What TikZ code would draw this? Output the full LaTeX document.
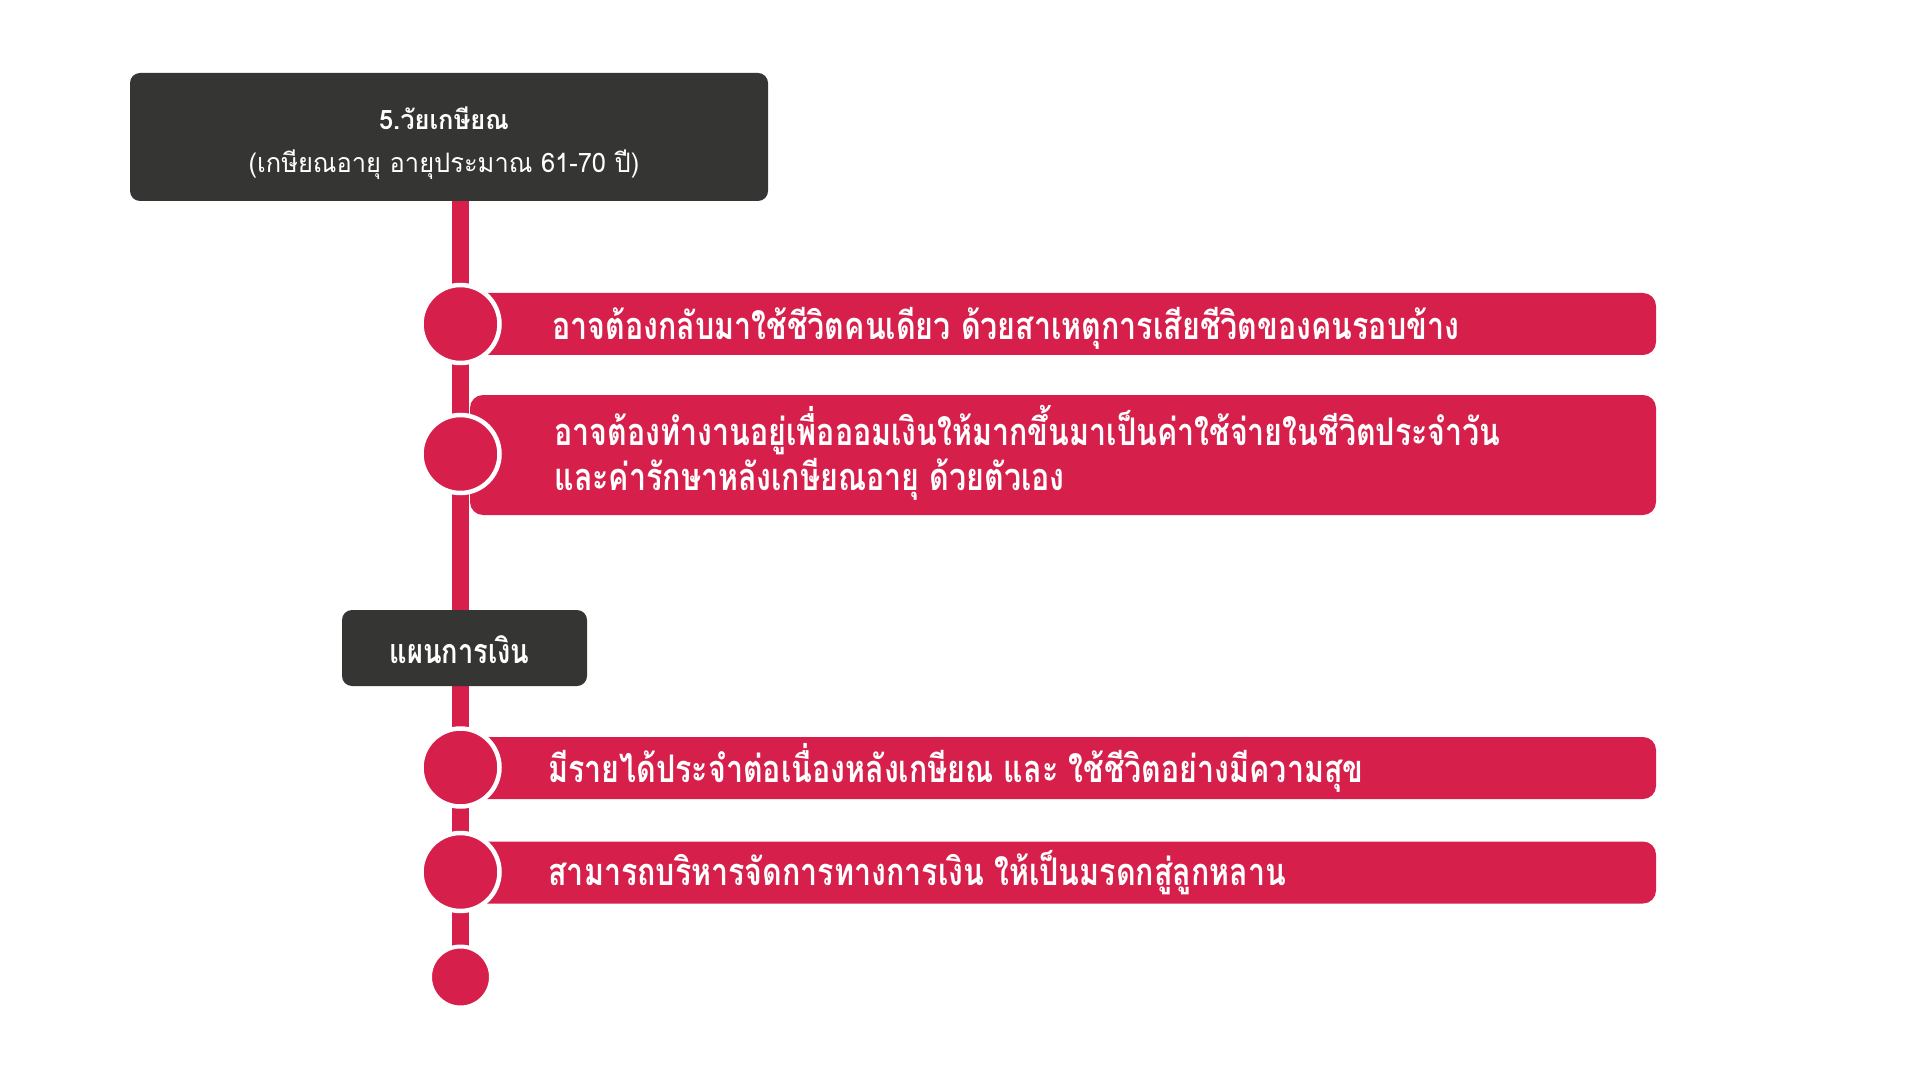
\documentclass[tikz,border=0pt]{standalone}
\usepackage{fontspec}
\newfontfamily\thaibar[Script=Thai, FakeStretch=0.8]{Loma}
\newfontfamily\thaihead[Script=Thai, FakeStretch=0.95]{Loma}
\usetikzlibrary{backgrounds}
\definecolor{darkbox}{HTML}{353533}
\definecolor{redbar}{HTML}{D61F4B}
\tikzset{
  headbox/.style={fill=darkbox, rounded corners=5pt, inner sep=0pt},
  headtext/.style={anchor=base, inner sep=0pt, text=white, font=\thaihead\bfseries\fontsize{13.4}{16}\selectfont},
  plantext/.style={anchor=base, inner sep=0pt, text=white, font=\thaibar\bfseries\fontsize{17}{20}\selectfont},
  barbox/.style={fill=redbar, rounded corners=6.5pt, minimum width=593pt, inner sep=0pt},
  bartext/.style={anchor=base west, inner sep=0pt, text=white, font=\thaibar\bfseries\fontsize{19}{22}\selectfont},
  dotnode/.style={circle, fill=redbar, draw=white, line width=2.25pt, minimum size=39pt, inner sep=0pt},
  enddot/.style={circle, fill=redbar, draw=white, line width=2pt, minimum size=30.5pt, inner sep=0pt},
  vline/.style={draw=redbar, line width=8.8pt}
}
\begin{document}
\begin{tikzpicture}[x=0.5pt,y=-0.5pt]
\useasboundingbox (0,0) rectangle (1920,1080);
% header box
\node[headbox, minimum width=319pt, minimum height=64pt] (box1) at (449,137) {};
\node[headtext] (h1) at (444,130) {5.วัยเกษียณ};
\node[headtext, font=\thaihead\fontsize{13.4}{16}\selectfont] (h2) at (444,173) {(เกษียณอายุ อายุประมาณ 61-70 ปี)};
% bars
\node[barbox, minimum height=31pt] (bar1) at (1063,324) {};
\node[barbox, minimum height=60pt] (bar2) at (1063,455) {};
\node[barbox, minimum height=31pt] (bar3) at (1063,768) {};
\node[barbox, minimum height=31pt] (bar4) at (1063,872.5) {};
\node[bartext] (t1) at (552,340) {อาจต้องกลับมาใช้ชีวิตคนเดียว ด้วยสาเหตุการเสียชีวิตของคนรอบข้าง};
\node[bartext] (t2a) at (554,445) {อาจต้องทำงานอยู่เพื่อออมเงินให้มากขึ้นมาเป็นค่าใช้จ่ายในชีวิตประจำวัน};
\node[bartext] (t2b) at (554,490) {และค่ารักษาหลังเกษียณอายุ ด้วยตัวเอง};
\node[bartext] (t3) at (548,782) {มีรายได้ประจำต่อเนื่องหลังเกษียณ และ ใช้ชีวิตอย่างมีความสุข};
\node[bartext] (t4) at (548,885) {สามารถบริหารจัดการทางการเงิน ให้เป็นมรดกสู่ลูกหลาน};
% dots
\node[dotnode] (c1) at (460.5,324) {};
\node[dotnode] (c2) at (460.5,454) {};
\node[dotnode] (c3) at (460.5,767.5) {};
\node[dotnode] (c4) at (460.5,872) {};
% plan box
\node[headbox, minimum width=122.5pt, minimum height=38pt] (box2) at (464.5,648) {};
\node[plantext] (p1) at (459.5,663) {แผนการเงิน};
\node[enddot] (end) at (460.5,977) {};
\begin{scope}[on background layer]
\fill[white] (0,0) rectangle (1920,1080);
\draw[vline] (box1.south -| c1.center) -- (end.center);
\end{scope}
\end{tikzpicture}
\end{document}
